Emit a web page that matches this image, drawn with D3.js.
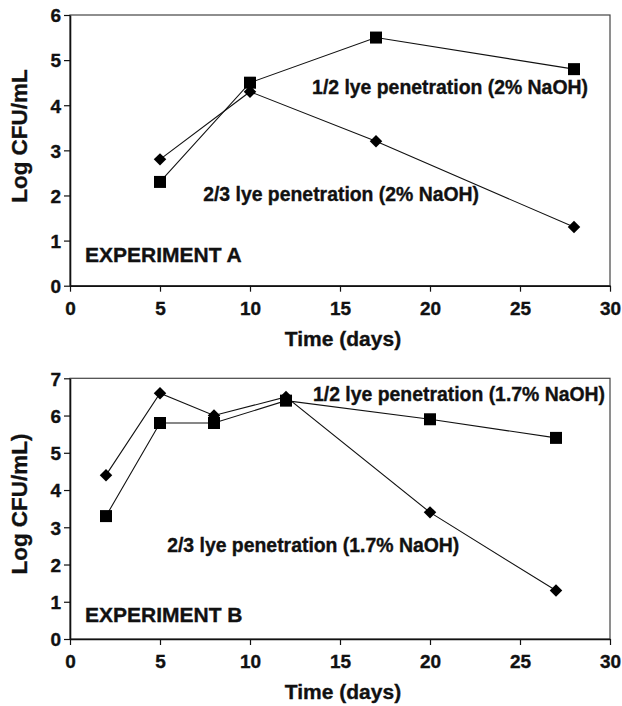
<!DOCTYPE html>
<html>
<head>
<meta charset="utf-8">
<script src="https://cdn.jsdelivr.net/npm/d3@7"></script>
<style>
  body { margin: 0; background: #fff; }
  text { font-family: "Liberation Sans", Arial, Helvetica, sans-serif; font-weight: bold; fill: #111; stroke: #111; stroke-width: 0.35px; }
  .axis .domain { stroke: #111; stroke-width: 1.6px; }
  .axis line { stroke: #111; stroke-width: 1.2px; }
  .seriesLine { fill: none; stroke: #111; stroke-width: 1.1px; }
</style>
</head>
<body>
<div id="chart"></div>
<script>
// experiment A
var daysA = [5, 10, 17, 28];
var halfLyeA = [2.3, 4.5, 5.5, 4.8];
var twoThirdsLyeA = [2.8, 4.3, 3.2, 1.3];

// experiment B
var daysB = [2, 5, 8, 12, 20, 27];
var halfLyeB = [3.3, 5.8, 5.8, 6.4, 5.9, 5.4];
var twoThirdsLyeB = [4.4, 6.6, 6.0, 6.5, 3.4, 1.3];

var xTicks = [0, 5, 10, 15, 20, 25, 30];
var yTicksA = [0, 1, 2, 3, 4, 5, 6];
var yTicksB = [0, 1, 2, 3, 4, 5, 6, 7];

var labelsA = ["1/2 lye penetration (2% NaOH)", "2/3 lye penetration (2% NaOH)", "EXPERIMENT A"];
var labelsB = ["1/2 lye penetration (1.7% NaOH)", "2/3 lye penetration (1.7% NaOH)", "EXPERIMENT B"];

var width = 622, height = 706;

var svg = d3.select("#chart")
    .append("svg")
    .attr("width", width)
    .attr("height", height);

svg.append("rect").attr("width", width).attr("height", height).attr("fill", "#fff");

makePanel({
    top: 15, bottom: 285.7, left: 70, right: 610,
    yMax: 6, yTicks: yTicksA,
    days: daysA, half: halfLyeA, twoThirds: twoThirdsLyeA,
    labels: labelsA,
    yTitle: "Log CFU/mL", yTitleCenter: 136,
    // label anchor points in data units [day, log CFU]
    labelPos: [[13.45, 4.25], [7.4, 1.88], [0.83, 0.52]]
});

makePanel({
    top: 378.3, bottom: 639, left: 70, right: 610,
    yMax: 7, yTicks: yTicksB,
    days: daysB, half: halfLyeB, twoThirds: twoThirdsLyeB,
    labels: labelsB,
    yTitle: "Log CFU/mL)", yTitleCenter: 504,
    labelPos: [[13.5, 6.39], [5.4, 2.34], [0.83, 0.46]]
});

function makePanel(p) {
    var x = d3.scaleLinear().domain([0, 30]).range([p.left, p.right]);
    var y = d3.scaleLinear().domain([0, p.yMax]).range([p.bottom, p.top]);

    var g = svg.append("g");

    // plot frame
    g.append("rect")
        .attr("x", p.left)
        .attr("y", p.top)
        .attr("width", p.right - p.left)
        .attr("height", p.bottom - p.top)
        .attr("fill", "none")
        .attr("stroke", "#444")
        .attr("stroke-width", 1.2);

    var xAxis = g.append("g")
        .attr("class", "axis")
        .attr("transform", "translate(0," + p.bottom + ")")
        .call(d3.axisBottom(x).tickValues(xTicks).tickFormat(d3.format("d")).tickSize(6).tickSizeOuter(0).tickPadding(5));
    xAxis.selectAll("text").style("font-size", "19px").attr("dy", "0.95em");

    var yAxis = g.append("g")
        .attr("class", "axis")
        .attr("transform", "translate(" + p.left + ",0)")
        .call(d3.axisLeft(y).tickValues(p.yTicks).tickFormat(d3.format("d")).tickSize(6).tickSizeOuter(0).tickPadding(3));
    yAxis.selectAll("text").style("font-size", "19px").attr("dy", "0.36em");

    g.append("text")
        .attr("transform", "translate(27," + p.yTitleCenter + ") rotate(-90)")
        .attr("text-anchor", "middle")
        .style("font-size", "22.5px")
        .text(p.yTitle);

    g.append("text")
        .attr("x", x(15) + 3)
        .attr("y", p.bottom + 60)
        .attr("text-anchor", "middle")
        .style("font-size", "21px")
        .text("Time (days)");

    var halfPts = p.days.map(function(d, i) { return [d, p.half[i]]; });
    var twoPts = p.days.map(function(d, i) { return [d, p.twoThirds[i]]; });

    var line = d3.line()
        .x(function(d) { return x(d[0]); })
        .y(function(d) { return y(d[1]); });

    g.append("path").attr("class", "seriesLine").attr("d", line(halfPts));
    g.append("path").attr("class", "seriesLine").attr("d", line(twoPts));

    // diamonds: 2/3 lye penetration
    g.selectAll(".diamond")
        .data(twoPts)
        .enter()
        .append("path")
        .attr("class", "diamond")
        .attr("d", d3.symbol(d3.symbolSquare, 78))
        .attr("transform", function(d) { return "translate(" + x(d[0]) + "," + y(d[1]) + ") rotate(45)"; })
        .attr("fill", "#000");

    // squares: 1/2 lye penetration
    g.selectAll(".square")
        .data(halfPts)
        .enter()
        .append("path")
        .attr("class", "square")
        .attr("d", d3.symbol(d3.symbolSquare, 144))
        .attr("transform", function(d) { return "translate(" + x(d[0]) + "," + y(d[1]) + ")"; })
        .attr("fill", "#000");

    g.selectAll(".note")
        .data(p.labels)
        .enter()
        .append("text")
        .attr("class", "note")
        .attr("x", function(d, i) { return x(p.labelPos[i][0]); })
        .attr("y", function(d, i) { return y(p.labelPos[i][1]); })
        .style("font-size", function(d, i) { return i === 2 ? "21px" : "19.4px"; })
        .text(function(d) { return d; });
}
</script>
</body>
</html>
